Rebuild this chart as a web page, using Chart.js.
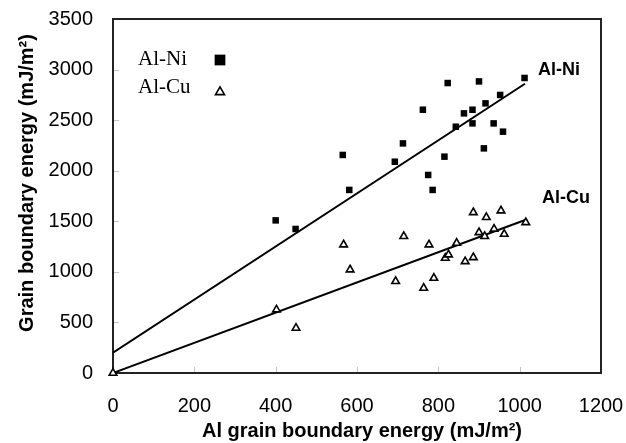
<!DOCTYPE html>
<html>
<head>
<meta charset="utf-8">
<script src="https://cdn.jsdelivr.net/npm/chart.js"></script>
<style>
html, body { margin: 0; padding: 0; background: #fff; }
#wrap { width: 626px; height: 443px; }
</style>
</head>
<body>
<div id="wrap"><canvas id="gbChart" width="626" height="443"></canvas></div>
<script>
// Al-Ni: Al grain boundary energy (x) vs alloy grain boundary energy (y), mJ/m^2
const niX = [400, 449, 565, 581, 693, 713, 762, 775, 786, 815, 823, 843, 863, 884, 884, 900, 912, 916, 936, 952, 959, 1012];
const niY = [1509, 1424, 2156, 1810, 2089, 2270, 2603, 1958, 1810, 2139, 2867, 2435, 2567, 2603, 2468, 2883, 2221, 2666, 2468, 2749, 2386, 2917];

// Al-Cu
const cuX = [0, 402, 450, 567, 583, 695, 715, 764, 777, 789, 817, 825, 845, 866, 886, 886, 900, 914, 918, 937, 954, 962, 1015];
const cuY = [0, 626, 445, 1269, 1022, 906, 1351, 840, 1269, 939, 1137, 1170, 1285, 1103, 1143, 1588, 1390, 1351, 1539, 1424, 1605, 1374, 1489];

// fitted straight lines (end points)
const niFitX = [0, 1013];
const niFitY = [200, 2860];
const cuFitX = [0, 1015];
const cuFitY = [0, 1515];

const xTicks = [0, 200, 400, 600, 800, 1000, 1200];
const yTicks = [0, 500, 1000, 1500, 2000, 2500, 3000, 3500];

const SANS = "Arial, 'Liberation Sans', sans-serif";
const SERIF = "'Times New Roman', 'Liberation Serif', serif";

function pts(xs, ys) {
    return xs.map((x, i) => ({ x: x, y: ys[i] }));
}

// box round the plot and the small grey inner tick marks
const framePlugin = {
    id: 'frame',
    beforeDatasetsDraw(chart) {
        const { ctx, chartArea: a, scales } = chart;
        ctx.save();
        ctx.strokeStyle = '#c4c4c4';
        ctx.lineWidth = 1;
        xTicks.slice(1, -1).forEach(v => {
            const px = Math.round(scales.x.getPixelForValue(v)) + 0.5;
            ctx.beginPath();
            ctx.moveTo(px, a.bottom);
            ctx.lineTo(px, a.bottom - 6);
            ctx.stroke();
        });
        yTicks.slice(1, -1).forEach(v => {
            const py = Math.round(scales.y.getPixelForValue(v)) + 0.5;
            ctx.beginPath();
            ctx.moveTo(a.left, py);
            ctx.lineTo(a.left + 6, py);
            ctx.stroke();
        });
        ctx.strokeStyle = '#222';
        ctx.lineWidth = 2;
        ctx.strokeRect(a.left, a.top, a.right - a.left, a.bottom - a.top);
        ctx.restore();
    }
};

// axis titles, line labels and the legend block
const textPlugin = {
    id: 'texts',
    afterDraw(chart) {
        const { ctx } = chart;
        ctx.save();
        ctx.fillStyle = '#000';

        ctx.font = 'bold 20px ' + SANS;
        ctx.textAlign = 'center';
        ctx.textBaseline = 'middle';
        ctx.fillText('Al grain boundary energy (mJ/m\u00B2)', 362, 431);

        ctx.save();
        ctx.translate(27, 183);
        ctx.rotate(-Math.PI / 2);
        ctx.fillText('Grain boundary energy (mJ/m\u00B2)', 0, 0);
        ctx.restore();

        ctx.font = 'bold 18px ' + SANS;
        ctx.textAlign = 'left';
        ctx.textBaseline = 'alphabetic';
        ctx.fillText('Al-Ni', 538, 75);
        ctx.fillText('Al-Cu', 542, 203);

        // legend
        const items = chart.data.datasets.filter(d => d.legendRow !== undefined);
        items.forEach(d => {
            const rowY = d.legendRow;
            ctx.font = '21px ' + SERIF;
            ctx.fillStyle = '#000';
            ctx.fillText(d.label, 138, rowY.text);
            ctx.fillStyle = d.backgroundColor;
            ctx.strokeStyle = d.borderColor;
            ctx.lineWidth = d.borderWidth || 1;
            Chart.helpers.drawPoint(ctx, {
                pointStyle: d.pointStyle,
                radius: d.legendRadius,
                rotation: 0,
                borderWidth: d.borderWidth
            }, 220, rowY.mark);
        });
        ctx.restore();
    }
};

const ctx = document.getElementById('gbChart').getContext('2d');

new Chart(ctx, {
    type: 'scatter',
    data: {
        datasets: [
            {
                label: 'Al-Ni',
                data: pts(niX, niY),
                pointStyle: 'rect',
                pointRadius: 4.6,
                backgroundColor: '#000',
                borderColor: '#000',
                borderWidth: 0,
                order: 1,
                legendRow: { text: 65, mark: 60 },
                legendRadius: 7.6
            },
            {
                label: 'Al-Cu',
                data: pts(cuX, cuY),
                pointStyle: 'triangle',
                pointRadius: 4.4,
                backgroundColor: '#fff',
                borderColor: '#000',
                borderWidth: 1.6,
                clip: false,
                order: 1,
                legendRow: { text: 93, mark: 92 },
                legendRadius: 5.2
            },
            {
                label: 'Al-Ni fit',
                data: pts(niFitX, niFitY),
                showLine: true,
                pointRadius: 0,
                borderColor: '#000',
                borderWidth: 2,
                order: 2
            },
            {
                label: 'Al-Cu fit',
                data: pts(cuFitX, cuFitY),
                showLine: true,
                pointRadius: 0,
                borderColor: '#000',
                borderWidth: 2,
                order: 2
            }
        ]
    },
    options: {
        responsive: false,
        animation: false,
        devicePixelRatio: 1,
        layout: { padding: { top: 19, right: 25, left: 0, bottom: 0 } },
        plugins: {
            legend: { display: false },
            tooltip: { enabled: false }
        },
        scales: {
            x: {
                type: 'linear',
                min: 0,
                max: 1200,
                afterFit(scale) { scale.height = 70; },
                afterBuildTicks(scale) { scale.ticks = xTicks.map(v => ({ value: v })); },
                // tick marks hidden, their length only spaces the labels
                grid: { display: false, drawTicks: true, tickLength: 21 },
                border: { display: false },
                ticks: {
                    padding: 0,
                    color: '#000',
                    font: { family: SANS, size: 20 },
                    callback: v => String(v)
                }
            },
            y: {
                type: 'linear',
                min: 0,
                max: 3500,
                afterFit(scale) { scale.width = 113; },
                afterBuildTicks(scale) { scale.ticks = yTicks.map(v => ({ value: v })); },
                grid: { display: false, drawTicks: true, tickLength: 20 },
                border: { display: false },
                ticks: {
                    padding: 0,
                    color: '#000',
                    font: { family: SANS, size: 20 },
                    callback: v => String(v)
                }
            }
        }
    },
    plugins: [framePlugin, textPlugin]
});
</script>
</body>
</html>
